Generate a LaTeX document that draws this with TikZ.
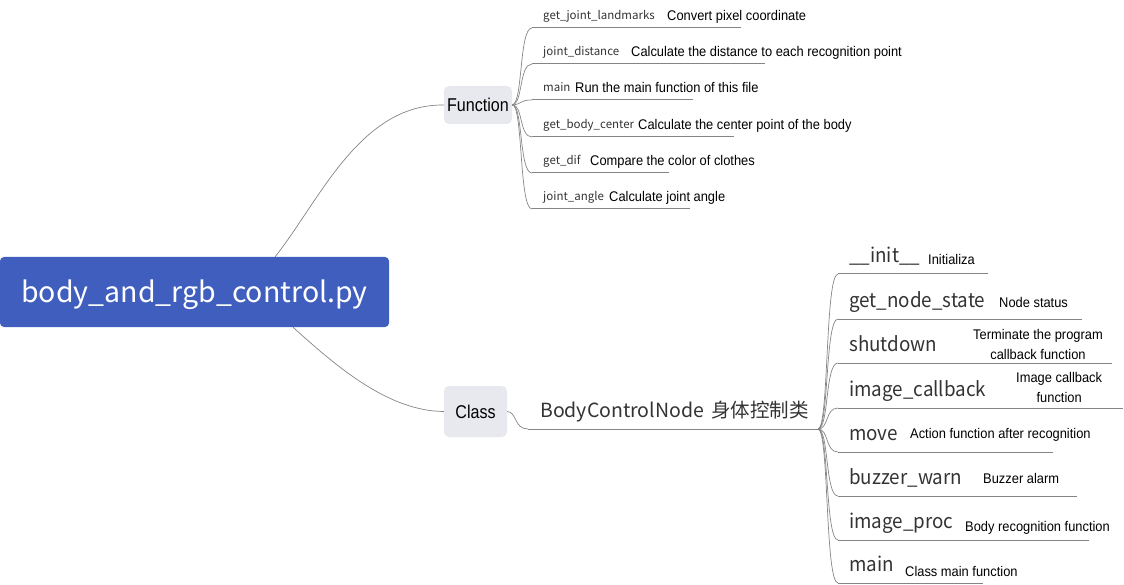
\documentclass[tikz,border=0pt]{standalone}
\usepackage{fontspec}
\setmainfont{Liberation Sans}
\newfontfamily\descfont[FakeStretch=0.92]{Liberation Sans}
\newfontfamily\labelfont[FakeStretch=0.87]{Liberation Sans}
\newfontfamily\namefont{Noto Sans CJK SC}
\newfontfamily\itemfont[FakeStretch=0.94]{Noto Sans CJK SC}
\usetikzlibrary{calc}
\definecolor{rootblue}{HTML}{3F5EBE}
\definecolor{topicgray}{HTML}{E8E9EF}
\definecolor{linegray}{HTML}{858585}
\definecolor{namegray}{HTML}{333333}
\tikzset{
  rootbox/.style={fill=rootblue, rounded corners=4pt, text=white, minimum width=389pt,
                  minimum height=70pt, inner sep=0pt, text height=25pt, text depth=4pt,
                  font=\namefont\fontsize{28.5}{34}\selectfont},
  topic/.style={fill=topicgray, rounded corners=5pt, inner sep=0pt,
                font=\labelfont\fontsize{18.5}{22}\selectfont},
  link/.style={draw=linegray, line width=0.7pt},
  uline/.style={draw=linegray, line width=1pt},
  fname/.style={inner sep=0pt, text=namegray, anchor=base west, font=\namefont\fontsize{11.5}{14}\selectfont},
  cname/.style={inner sep=0pt, text=namegray, anchor=base west, font=\itemfont\fontsize{20}{24}\selectfont},
  desc/.style={inner sep=0pt, anchor=base west, font=\descfont\fontsize{14}{20}\selectfont},
}
\newcommand{\twoline}[2]{\begin{tabular}[b]{@{}c@{}}#1\\#2\end{tabular}}

\begin{document}
\begin{tikzpicture}[x=1pt, y=-1pt]
  \useasboundingbox (0,0) rectangle (1124,585);
  \node[rootbox] (root) at (194.5,292) {body\_and\_rgb\_control.py};
  \node[topic, minimum width=68pt, minimum height=38pt] (fn) at (478,105) {Function};
  \node[topic, minimum width=63pt, minimum height=51pt] (cls) at (475.5,411.5) {Class};
  \draw[link] ($(root.north west)!0.707!(root.north east)$) .. controls (320,200) and (360,104) .. (fn.west);
  \draw[link] ($(root.south west)!0.753!(root.south east)$) .. controls (340,370) and (390,411) .. (cls.west);
  % functions
  \foreach \i/\ly/\lx/\nm/\dx/\ds in {
      1/28/741/get\_joint\_landmarks/667/Convert pixel coordinate,
      2/64/765/joint\_distance/631/Calculate the distance to each recognition point,
      3/100/693/main/575/Run the main function of this file,
      4/137/734/get\_body\_center/638/Calculate the center point of the body,
      5/173/669/get\_dif/590/Compare the color of clothes,
      6/209/690/joint\_angle/609/Calculate joint angle}{
    \coordinate (fl\i) at (532,\ly);
    \draw[link] (fn.east) .. controls (523,104) and (519,\ly) .. (fl\i);
    \draw[uline] (fl\i) -- (\lx,\ly);
    \node[fname] (fnm\i) at (543,\ly-8) {\nm};
    \node[desc] (fds\i) at (\dx,\ly-7) {\ds};
  }
  % class
  \node[cname, font=\namefont\fontsize{19.5}{24}\selectfont] (bcn) at (540,417) {BodyControlNode\hspace{7pt}身体控制类};
  \coordinate (bl) at (528,429);
  \coordinate (hub) at (818,429);
  \draw[link] (cls.east) .. controls (517,412) and (514,429) .. (bl);
  \draw[uline] (bl) -- (hub);
  \foreach \i/\ly/\lx/\nm/\dx/\dy/\ds in {
      1/274/988/\_\_init\_\_/928/265/Initializa,
      2/319/1082/get\_node\_state/999/308/Node status,
      3/363/1112/shutdown/973/359/\twoline{Terminate the program}{callback function},
      4/408/1123/image\_callback/1016/402/\twoline{Image callback}{function},
      5/452/1053/move/910/438/Action function after recognition,
      6/496/1077/buzzer\_warn/983/483/Buzzer alarm,
      7/540/1089/image\_proc/965/531/Body recognition function,
      8/583/983/main/905/576/Class main function}{
    \coordinate (cl\i) at (838,\ly);
    \draw[link] (hub) .. controls (829,429) and (825,\ly) .. (cl\i);
    \draw[uline] (cl\i) -- (\lx,\ly);
    \node[cname] (cnm\i) at (849,\ly-12) {\nm};
    \node[desc] (cds\i) at (\dx,\dy) {\ds};
  }
\end{tikzpicture}
\end{document}
